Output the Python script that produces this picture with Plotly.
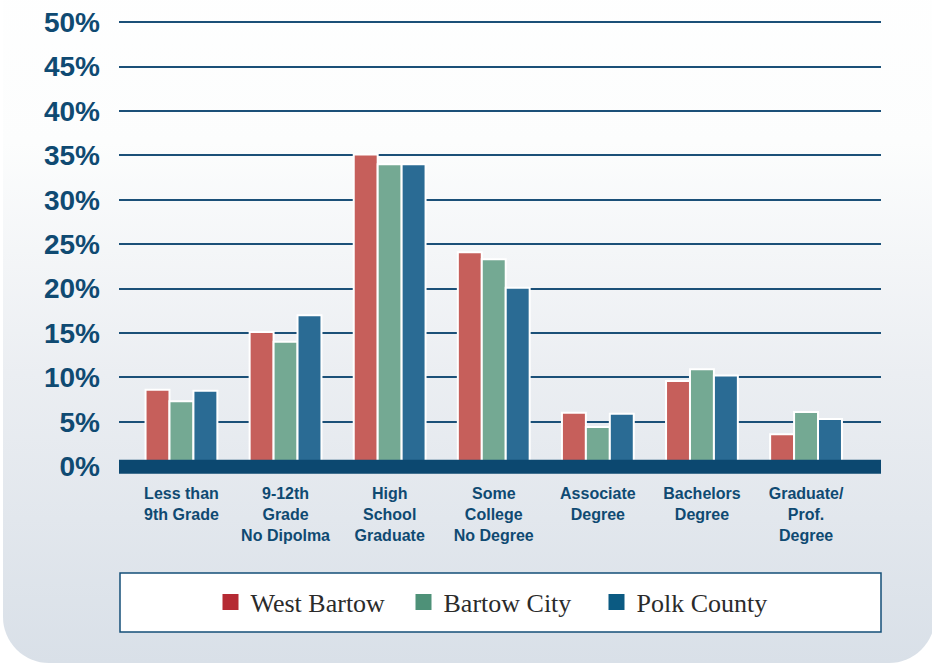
import base64
import plotly.graph_objects as go

categories = ["Less than<br>9th Grade", "9-12th<br>Grade<br>No Dipolma", "High<br>School<br>Graduate",
              "Some<br>College<br>No Degree", "Associate<br>Degree", "Bachelors<br>Degree",
              "Graduate/<br>Prof.<br>Degree"]
west_bartow = [8.6, 15.1, 35.1, 24.1, 6.0, 9.6, 3.6]
bartow_city = [7.3, 14.0, 34.0, 23.3, 4.4, 10.9, 6.1]
polk_county = [8.5, 17.0, 34.0, 20.1, 5.9, 10.2, 5.3]
series_names = ["West Bartow", "Bartow City", "Polk County"]
tick_vals = [0, 5, 10, 15, 20, 25, 30, 35, 40, 45, 50]
tick_text = ["0%", "5%", "10%", "15%", "20%", "25%", "30%", "35%", "40%", "45%", "50%"]

bar_colors = ["#c65f5b", "#74a993", "#2a6b94"]
legend_colors = ["#b52a33", "#4e9178", "#0b5a82"]
navy = "#0f4a72"

W, H = 932, 667
ML, MR = 119, 51
zero_px = 466.4          # pixel row of 0%
per_unit = 8.874         # pixels per 1%
y_lo, y_hi = -1.0, 50.25
MT = round(zero_px - y_hi * per_unit)
MB = round(H - (zero_px - y_lo * per_unit))
plot_h = H - MT - MB
plot_w = W - ML - MR
plot_bottom = H - MB

svg = f'''<svg xmlns="http://www.w3.org/2000/svg" width="{W}" height="{H}" viewBox="0 0 {W} {H}" preserveAspectRatio="none">
<defs><linearGradient id="g" x1="0" y1="0" x2="0" y2="1">
<stop offset="0" stop-color="#ffffff"/><stop offset="0.28" stop-color="#fcfdfd"/>
<stop offset="0.6" stop-color="#ebeef2"/><stop offset="1" stop-color="#d9e0e8"/></linearGradient></defs>
<rect x="3" y="-60" width="932" height="723" rx="46" ry="46" fill="url(#g)"/></svg>'''
src = "data:image/svg+xml;base64," + base64.b64encode(svg.encode()).decode()

fig = go.Figure()
for name, vals, col in zip(series_names, [west_bartow, bartow_city, polk_county], bar_colors):
    fig.add_trace(go.Bar(x=categories, y=vals, name=name, showlegend=False,
                         marker=dict(color=col, line=dict(color="white", width=2))))
for name, col in zip(series_names, legend_colors):
    fig.add_trace(go.Scatter(x=[None], y=[None], mode="markers", name=name,
                             marker=dict(symbol="square", size=16, color=col, line=dict(width=0))))

fig.add_shape(type="rect", xref="paper", yref="y", x0=0, x1=1, y0=-0.85, y1=0.72,
              fillcolor="#0c4870", line=dict(width=0), layer="above")
fig.add_shape(type="rect", xref="paper", yref="paper",
              x0=1/plot_w, x1=1.0, y0=(plot_bottom-632)/plot_h, y1=(plot_bottom-573)/plot_h,
              fillcolor="white", line=dict(color="#154f78", width=1.5), layer="below")

fig.add_layout_image(dict(source=src, xref="paper", yref="paper", x=-ML/plot_w, y=1+MT/plot_h,
                          sizex=W/plot_w, sizey=H/plot_h, sizing="stretch", layer="below",
                          xanchor="left", yanchor="top"))

fig.update_layout(
    width=W, height=H,
    margin=dict(l=ML, r=MR, t=MT, b=MB, pad=0, autoexpand=False),
    paper_bgcolor="white", plot_bgcolor="rgba(0,0,0,0)",
    barmode="group", bargap=0.31, bargroupgap=0,
    font=dict(family="Liberation Sans, Arial, sans-serif", color=navy),
    xaxis=dict(range=[-0.6, 6.72], showgrid=False, zeroline=False, showline=False, automargin=False,
               tickfont=dict(size=16, family="Liberation Sans, Arial, sans-serif", weight="bold", color=navy),
               ticks="", ticklabelstandoff=7),
    yaxis=dict(range=[y_lo, y_hi], tickvals=tick_vals, ticktext=tick_text, showgrid=True, automargin=False,
               gridcolor="#1b5078", gridwidth=1.5, zeroline=False, showline=False,
               tickfont=dict(size=28, family="Liberation Sans, Arial, sans-serif", weight="bold", color=navy),
               ticklabelstandoff=18),
    legend=dict(orientation="h", x=0.5, xanchor="center", y=(plot_bottom-602)/plot_h, yanchor="middle",
                bgcolor="rgba(0,0,0,0)", borderwidth=0, entrywidth=148,
                font=dict(family="Liberation Serif, Times New Roman, serif", size=26, color="#2b2b2b")),
)

fig.write_html("out.html", config={"displayModeBar": False},
               post_script="document.body.style.margin='0';")
